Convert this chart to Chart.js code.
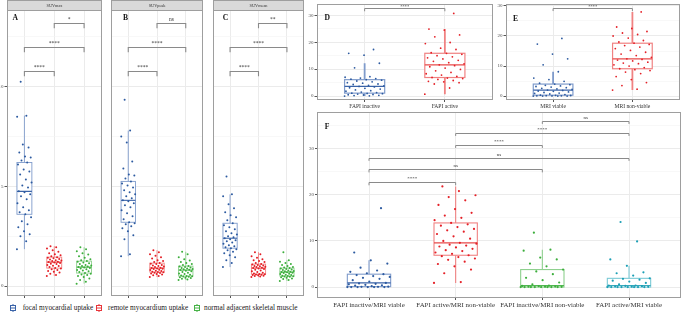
<!DOCTYPE html>
<html>
<head>
<meta charset="utf-8">
<script src="https://cdn.jsdelivr.net/npm/chart.js@4.4.1/dist/chart.umd.min.js"></script>
<style>
  html, body { margin: 0; padding: 0; background: #fff; }
  #wrap { position: relative; width: 685px; height: 313px; overflow: hidden; font-family: "Liberation Serif", "Times New Roman", serif; }
  #wrap canvas { position: absolute; }
  .lg { position: absolute; top: 302.5px; height: 10px; font-size: 7.3px; line-height: 10px; color: #1a1a1a; white-space: nowrap; }
  .lg svg { display: block; margin-top: 1px; }
</style>
</head>
<body>
<div id="wrap">
  <canvas id="cA" width="106" height="300" style="left:0;top:0"></canvas>
  <canvas id="cB" width="100" height="300" style="left:107px;top:0"></canvas>
  <canvas id="cC" width="99" height="300" style="left:209px;top:0"></canvas>
  <canvas id="cD" width="195" height="112" style="left:302px;top:0"></canvas>
  <canvas id="cE" width="192" height="112" style="left:492px;top:0"></canvas>
  <canvas id="cF" width="383" height="205" style="left:302px;top:108px"></canvas>

  <div class="lg" style="left:10px"><svg width="6" height="8"><line x1="3" y1="0" x2="3" y2="8" stroke="#3a63a8"/><rect x="0.5" y="1.5" width="5" height="5" fill="#fff" stroke="#3a63a8"/><line x1="0.5" y1="4" x2="5.5" y2="4" stroke="#3a63a8"/></svg></div>
  <div class="lg" style="left:22.7px">focal myocardial uptake</div>
  <div class="lg" style="left:96px"><svg width="6" height="8"><line x1="3" y1="0" x2="3" y2="8" stroke="#e8353a"/><rect x="0.5" y="1.5" width="5" height="5" fill="#fff" stroke="#e8353a"/><line x1="0.5" y1="4" x2="5.5" y2="4" stroke="#e8353a"/></svg></div>
  <div class="lg" style="left:108px">remote myocardium uptake</div>
  <div class="lg" style="left:194px"><svg width="6" height="8"><line x1="3" y1="0" x2="3" y2="8" stroke="#47b247"/><rect x="0.5" y="1.5" width="5" height="5" fill="#fff" stroke="#47b247"/><line x1="0.5" y1="4" x2="5.5" y2="4" stroke="#47b247"/></svg></div>
  <div class="lg" style="left:204px">normal adjacent skeletal muscle</div>
</div>
<script>
/* ── 数据 ── */

// A–C: SUV (shared y axis)
const suvCats = ['focal myocardial uptake', 'remote myocardium uptake', 'normal adjacent skeletal muscle'];
const suvTicks = [0, 5, 10];

const suvmaxFocal = [1.85, 2.25, 2.5, 2.6, 2.75, 2.95, 3.1, 3.25, 3.45, 3.6, 3.7, 3.8, 3.95, 4.15, 4.35, 4.5, 4.6, 4.7, 4.75,
    4.95, 5.05, 5.2, 5.35, 5.6, 5.75, 5.85, 6.1, 6.2, 6.3, 6.45, 6.5, 6.7, 6.95, 7.1, 8.5, 8.55, 10.25];
const suvmaxRemote = [0.5, 0.55, 0.62, 0.68, 0.72, 0.75, 0.8, 0.84, 0.88, 0.9, 0.95, 1.0, 1.02, 1.06, 1.1, 1.12, 1.15, 1.18, 1.2,
    1.22, 1.25, 1.28, 1.3, 1.33, 1.36, 1.4, 1.42, 1.45, 1.5, 1.55, 1.6, 1.65, 1.72, 1.8, 1.88, 1.95, 2.0];
const suvmaxMuscle = [0.12, 0.22, 0.3, 0.38, 0.45, 0.5, 0.55, 0.58, 0.62, 0.65, 0.7, 0.74, 0.78, 0.8, 0.84, 0.88, 0.9, 0.93, 0.95,
    0.98, 1.0, 1.03, 1.06, 1.1, 1.14, 1.18, 1.22, 1.25, 1.3, 1.35, 1.42, 1.5, 1.58, 1.65, 1.75, 1.85, 1.95];

const suvpeakFocal = [1.5, 1.6, 2.35, 2.55, 2.75, 2.9, 3.0, 3.1, 3.15, 3.2, 3.35, 3.5, 3.65, 3.8, 3.95, 4.05, 4.15, 4.25, 4.3,
    4.4, 4.5, 4.6, 4.7, 4.8, 4.95, 5.05, 5.15, 5.25, 5.4, 5.55, 5.6, 5.9, 6.25, 7.2, 7.5, 7.8, 9.35];
const suvpeakRemote = [0.45, 0.5, 0.54, 0.58, 0.6, 0.63, 0.65, 0.67, 0.69, 0.7, 0.72, 0.75, 0.77, 0.8, 0.82, 0.85, 0.87, 0.88, 0.9,
    0.92, 0.95, 0.98, 1.0, 1.03, 1.06, 1.1, 1.12, 1.15, 1.2, 1.25, 1.3, 1.38, 1.45, 1.52, 1.6, 1.7, 1.8];
const suvpeakMuscle = [0.3, 0.33, 0.36, 0.4, 0.42, 0.44, 0.46, 0.48, 0.49, 0.5, 0.53, 0.56, 0.6, 0.63, 0.67, 0.7, 0.74, 0.77, 0.8,
    0.82, 0.84, 0.86, 0.88, 0.9, 0.93, 0.95, 0.98, 1.0, 1.05, 1.1, 1.15, 1.2, 1.28, 1.35, 1.45, 1.6, 1.72];

const suvmeanFocal = [0.95, 1.15, 1.3, 1.45, 1.55, 1.65, 1.72, 1.8, 1.85, 1.9, 1.95, 2.0, 2.05, 2.12, 2.18, 2.25, 2.3, 2.35, 2.4,
    2.45, 2.5, 2.58, 2.65, 2.75, 2.85, 2.95, 3.05, 3.15, 3.3, 3.45, 3.55, 3.7, 3.9, 4.1, 4.5, 4.6, 5.5];
const suvmeanRemote = [0.45, 0.48, 0.5, 0.52, 0.54, 0.55, 0.57, 0.58, 0.59, 0.6, 0.63, 0.67, 0.7, 0.74, 0.78, 0.82, 0.85, 0.88, 0.9,
    0.92, 0.95, 0.97, 0.99, 1.01, 1.03, 1.05, 1.08, 1.1, 1.15, 1.2, 1.25, 1.3, 1.35, 1.42, 1.5, 1.6, 1.7];
const suvmeanMuscle = [0.25, 0.3, 0.35, 0.38, 0.41, 0.44, 0.46, 0.48, 0.49, 0.5, 0.52, 0.55, 0.57, 0.6, 0.62, 0.65, 0.67, 0.69, 0.7,
    0.72, 0.74, 0.76, 0.78, 0.8, 0.83, 0.85, 0.88, 0.9, 0.93, 0.96, 1.0, 1.05, 1.1, 1.15, 1.22, 1.3, 1.7];

const suvPairs = [[2, 3], [1, 3], [1, 2]];
const suvBracketY = [13.2, 12.0, 10.8];
const suvmaxSig = ['*', '****', '****'];
const suvpeakSig = ['ns', '****', '****'];
const suvmeanSig = ['**', '****', '****'];

// D: FAPI
const dCats = ['FAPI inactive', 'FAPI active'];
const dTicks = [0, 10, 20, 30];
const fapiInactive = [0, 0.1, 0.2, 0.3, 0.4, 0.5, 0.6, 0.75, 0.9, 1.0, 1.1, 1.3, 1.5, 1.8, 2.0, 2.3, 2.6, 2.9, 3.1, 3.4, 3.6,
    3.8, 4.0, 4.3, 4.5, 4.8, 5.0, 5.3, 5.6, 5.9, 6.1, 6.3, 6.5, 6.7, 7.0, 7.2, 10.5, 12.2, 15.2, 15.9, 17.3];
const fapiActive = [0.7, 3.0, 4.5, 5.0, 5.3, 5.5, 5.8, 6.2, 6.5, 6.7, 6.9, 7.3, 7.8, 8.3, 8.8, 9.4, 9.9, 10.4, 10.9, 11.3, 11.6,
    12.0, 12.4, 12.9, 13.3, 13.8, 14.2, 14.6, 15.0, 15.5, 15.9, 16.1, 17.3, 17.8, 19.5, 19.9, 22.0, 22.7, 24.5, 24.9, 30.7];
const dPairs = [[1, 2]];
const dBracketY = [32.6];
const dSig = ['****'];

// E: MRI
const eCats = ['MRI viable', 'MRI non-viable'];
const eTicks = [0, 10, 20, 30];
const mriViable = [0, 0, 0, 0, 0.05, 0.1, 0.1, 0.15, 0.2, 0.25, 0.3, 0.5, 0.7, 0.9, 1.0, 1.2, 1.4, 1.6, 1.7, 1.9, 2.0,
    2.2, 2.4, 2.6, 2.8, 3.0, 3.2, 3.4, 3.6, 3.8, 4.0, 4.3, 4.9, 5.5, 6.0, 8.1, 10.4, 12.4, 14.0, 17.3, 19.2];
const mriNonViable = [2.0, 2.3, 3.5, 4.5, 5.5, 6.5, 7.5, 8.0, 8.5, 8.8, 9.1, 9.5, 10.0, 10.4, 10.8, 11.0, 11.3, 11.7, 12.0, 12.2, 12.4,
    12.9, 13.5, 14.0, 14.6, 15.2, 15.8, 16.3, 16.8, 17.2, 17.6, 18.0, 18.5, 19.3, 20.0, 20.5, 21.0, 21.5, 22.5, 23.0, 28.0];
const ePairs = [[1, 2]];
const eBracketY = [29.3];
const eSig = ['****'];

// F: FAPI × MRI
const fCats = ['FAPI inactive/MRI viable', 'FAPI active/MRI non-viable', 'FAPI inactive/MRI non-viable', 'FAPI active/MRI viable'];
const fTicks = [0, 10, 20, 30];
const inactiveViable = [0, 0, 0, 0, 0, 0, 0.05, 0.05, 0.1, 0.2, 0.3, 0.4, 0.5, 0.6, 0.7, 0.8, 0.9,
    1.2, 1.5, 1.8, 2.0, 2.2, 2.4, 2.6, 2.8, 3.0, 3.3, 3.6, 4.2, 5.1, 5.8, 7.5, 17.1];
const activeNonViable = [0.9, 1.1, 3.0, 3.8, 4.5, 5.0, 5.5, 5.9, 6.2, 6.5, 6.7, 6.9, 7.2, 7.5, 7.8, 8.0, 8.3, 8.6, 8.8, 9.0, 9.2, 9.4, 9.6,
    10.0, 10.5, 11.0, 11.5, 12.0, 12.3, 12.6, 13.0, 13.3, 13.6, 13.9, 14.5, 15.0, 15.5, 16.1, 16.9, 17.8, 18.8, 19.5, 19.9, 20.8, 21.8];
const inactiveNonViable = [0, 0, 0, 0, 0, 0, 0, 0, 0.05, 0.1, 0.1, 0.15, 0.2, 0.25, 0.3,
    0.6, 1.0, 1.5, 2.0, 2.8, 3.4, 3.8, 4.5, 5.1, 6.0, 6.4, 7.9, 8.1, 11.8];
const activeViable = [0, 0, 0, 0, 0, 0, 0, 0, 0.05, 0.1, 0.15, 0.2, 0.25, 0.3, 0.35,
    0.6, 0.9, 1.2, 1.4, 1.6, 1.8, 1.9, 2.5, 3.0, 3.2, 4.6, 6.0, 9.9, 14.1];
const fPairs = [[3, 4], [2, 4], [2, 3], [1, 4], [1, 3], [1, 2]];
const fBracketY = [36.0, 33.4, 30.8, 28.0, 25.5, 22.7];
const fSig = ['ns', '****', '****', 'ns', 'ns', '****'];

/* ── 样式 ── */
const FONT = '"Liberation Serif", "Times New Roman", serif';
const BLUE = { pt: '#2c5aa0', box: '#7f9bcb', med: '#3a63a8' };
const RED = { pt: '#e41f26', box: '#f08282', med: '#e84a4a' };
const GREEN = { pt: '#3cae3c', box: '#8fd08f', med: '#52b852' };
const TEAL = { pt: '#1b9fb5', box: '#7ccad6', med: '#3aaabb' };

const PANELS = {};

// 固定抖动（非随机）
function jit(i) { return (((i * 0.6180339887) % 1) - 0.5) * 0.5; }

function quant(s, p) {
    const h = (s.length - 1) * p, lo = Math.floor(h);
    const hi = Math.min(lo + 1, s.length - 1);
    return s[lo] + (h - lo) * (s[hi] - s[lo]);
}

function boxStats(vals) {
    const s = vals.slice().sort((a, b) => a - b);
    const q1 = quant(s, 0.25), med = quant(s, 0.5), q3 = quant(s, 0.75), iqr = q3 - q1;
    const lo = s.find(v => v >= q1 - 1.5 * iqr);
    const hi = s.slice().reverse().find(v => v <= q3 + 1.5 * iqr);
    return { q1, med, q3, lo, hi };
}

function tickObjs(majors, min, max) {
    const half = (majors[1] - majors[0]) / 2, out = [];
    for (let v = Math.ceil(min / half) * half; v <= max + 1e-9; v += half) {
        out.push({ value: v, isMajor: majors.includes(v) });
    }
    return out;
}

const ggPanel = {
    id: 'ggPanel',
    beforeDatasetsDraw(chart) {
        const o = PANELS[chart.canvas.id];
        const { ctx, chartArea: a, scales: { x, y } } = chart;
        const py = v => y.getPixelForValue(v);
        ctx.save();
        ctx.beginPath();
        ctx.rect(a.left, a.top, a.right - a.left, a.bottom - a.top);
        ctx.clip();
        o.groups.forEach((g, gi) => {
            const st = boxStats(g.values);
            const cx = x.getPixelForValue(gi + 1);
            const x0 = x.getPixelForValue(gi + 1 - 0.25), x1 = x.getPixelForValue(gi + 1 + 0.25);
            // whiskers
            ctx.strokeStyle = g.color.box;
            ctx.lineWidth = o.whiskerW;
            ctx.beginPath();
            ctx.moveTo(cx, py(st.hi)); ctx.lineTo(cx, py(st.q3));
            ctx.moveTo(cx, py(st.q1)); ctx.lineTo(cx, py(st.lo));
            ctx.stroke();
            // box
            ctx.fillStyle = '#fff';
            ctx.fillRect(x0, py(st.q3), x1 - x0, py(st.q1) - py(st.q3));
            ctx.lineWidth = o.boxW;
            ctx.strokeRect(x0, py(st.q3), x1 - x0, py(st.q1) - py(st.q3));
            // median
            ctx.strokeStyle = g.color.med;
            ctx.lineWidth = o.medW;
            ctx.beginPath();
            ctx.moveTo(x0, py(st.med)); ctx.lineTo(x1, py(st.med));
            ctx.stroke();
        });
        ctx.restore();
    },
    afterDraw(chart) {
        const o = PANELS[chart.canvas.id];
        const { ctx, chartArea: a, scales: { x, y } } = chart;
        const L = Math.round(a.left) + 0.5, T = Math.round(a.top) + 0.5;
        const R = Math.round(a.right) - 0.5, B = Math.round(a.bottom) - 0.5;
        ctx.save();
        // strip
        if (o.strip) {
            ctx.fillStyle = '#d9d9d9';
            ctx.fillRect(L, 0.5, R - L, T - 0.5);
            ctx.strokeStyle = '#9e9e9e';
            ctx.lineWidth = 1;
            ctx.strokeRect(L, 0.5, R - L, T - 0.5);
            ctx.fillStyle = '#333';
            ctx.font = `4.3px ${FONT}`;
            ctx.textAlign = 'center';
            ctx.textBaseline = 'middle';
            ctx.fillText(o.strip, (L + R) / 2, T / 2 + 0.5);
        }
        // border
        ctx.strokeStyle = '#9e9e9e';
        ctx.lineWidth = 1;
        ctx.strokeRect(L, T, R - L, B - T);
        // letter
        ctx.fillStyle = '#111';
        ctx.font = `bold 7.6px ${FONT}`;
        ctx.textAlign = 'center';
        ctx.textBaseline = 'middle';
        ctx.fillText(o.letter, a.left + o.letterDx, a.top + o.letterDy);
        // significance brackets
        ctx.strokeStyle = '#8a8a8a';
        ctx.lineWidth = o.bracketW;
        ctx.font = `${o.sigFont}px ${FONT}`;
        ctx.textBaseline = 'alphabetic';
        o.pairs.forEach((p, k) => {
            const xa = x.getPixelForValue(p[0]), xb = x.getPixelForValue(p[1]);
            const yy = Math.round(y.getPixelForValue(o.bracketY[k])) + 0.5;
            const yt = y.getPixelForValue(o.bracketY[k] - o.tip);
            ctx.beginPath();
            ctx.moveTo(xa, yt); ctx.lineTo(xa, yy); ctx.lineTo(xb, yy); ctx.lineTo(xb, yt);
            ctx.stroke();
            ctx.fillStyle = '#333';
            ctx.fillText(o.sig[k], (xa + xb) / 2, yy - o.sigGap);
        });
        ctx.restore();
    },
};

function panel(id, cfg) {
    PANELS[id] = cfg;
    const xt = cfg.cats.map((c, i) => ({ value: i + 1, isMajor: true }));
    const yt = tickObjs(cfg.yTicks, cfg.yMin, cfg.yMax);
    const isMajor = c => c.tick && c.tick.isMajor;
    new Chart(document.getElementById(id), {
        type: 'scatter',
        data: {
            datasets: cfg.groups.map((g, gi) => ({
                data: g.values.map((v, i) => ({ x: gi + 1 + jit(i), y: v })),
                pointRadius: cfg.ptR,
                pointBackgroundColor: g.color.pt,
                pointBorderWidth: 0,
                showLine: false,
            })),
        },
        options: {
            responsive: false,
            animation: false,
            events: [],
            layout: { padding: { top: cfg.padTop, right: cfg.padRight || 0, left: 0, bottom: 0 } },
            plugins: { legend: { display: false }, tooltip: { enabled: false } },
            scales: {
                x: {
                    type: 'linear',
                    min: 0.4,
                    max: cfg.cats.length + 0.6,
                    afterBuildTicks: ax => { ax.ticks = xt.map(t => ({ ...t })); },
                    afterFit: ax => { ax.height = cfg.xH; },
                    ticks: {
                        display: cfg.showX, autoSkip: false, maxRotation: 0, minRotation: 0,
                        padding: 1, color: '#333', font: { family: FONT, size: cfg.xFont },
                        callback: (v, i) => cfg.cats[i],
                    },
                    grid: { color: '#ebebeb', lineWidth: 1, drawTicks: true, tickLength: 2, tickColor: '#555' },
                    border: { display: false },
                },
                y: {
                    type: 'linear',
                    min: cfg.yMin,
                    max: cfg.yMax,
                    afterBuildTicks: ax => { ax.ticks = yt.map(t => ({ ...t })); },
                    afterFit: ax => { ax.width = cfg.yW; },
                    ticks: {
                        display: cfg.showY, autoSkip: false, padding: 1, color: '#4d4d4d',
                        font: { family: FONT, size: 5 },
                        callback: (v, i, t) => (t[i].isMajor ? String(v) : ''),
                    },
                    grid: {
                        color: c => (isMajor(c) ? '#ebebeb' : '#f4f4f4'),
                        lineWidth: c => (isMajor(c) ? 1 : 0.6),
                        drawTicks: cfg.showY, tickLength: 2,
                        tickColor: c => (isMajor(c) ? '#555' : 'rgba(0,0,0,0)'),
                    },
                    border: { display: false },
                },
            },
        },
        plugins: [ggPanel],
    });
}

const suvBase = {
    cats: suvCats, yTicks: suvTicks, yMin: -0.5, yMax: 13.85,
    padTop: 10, xH: 3, showX: false, xFont: 6, ptR: 1,
    pairs: suvPairs, bracketY: suvBracketY, tip: 0.27, sigFont: 5.5, sigGap: 3,
    boxW: 0.9, whiskerW: 0.9, medW: 1.1, bracketW: 1.1, letterDy: 8.3,
};

panel('cA', { ...suvBase, yW: 6.5, showY: true, strip: 'SUVmax', letter: 'A', letterDx: 8.8, sig: suvmaxSig,
    groups: [{ values: suvmaxFocal, color: BLUE }, { values: suvmaxRemote, color: RED }, { values: suvmaxMuscle, color: GREEN }] });
panel('cB', { ...suvBase, yW: 0.5, showY: false, strip: 'SUVpeak', letter: 'B', letterDx: 14.5, sig: suvpeakSig,
    groups: [{ values: suvpeakFocal, color: BLUE }, { values: suvpeakRemote, color: RED }, { values: suvpeakMuscle, color: GREEN }] });
panel('cC', { ...suvBase, yW: 0.5, showY: false, strip: 'SUVmean', letter: 'C', letterDx: 12.5, sig: suvmeanSig,
    groups: [{ values: suvmeanFocal, color: BLUE }, { values: suvmeanRemote, color: RED }, { values: suvmeanMuscle, color: GREEN }] });

panel('cD', {
    cats: dCats, yTicks: dTicks, yMin: -1.45, yMax: 34.2, yW: 14.5, showY: true,
    padTop: 2, xH: 12, showX: true, xFont: 5.6, ptR: 0.9,
    pairs: dPairs, bracketY: dBracketY, sig: dSig, tip: 1.1, sigFont: 4.5, sigGap: 0.8,
    boxW: 1.2, whiskerW: 1.8, medW: 1.4, bracketW: 1, letter: 'D', letterDx: 10.8, letterDy: 14.5,
    groups: [{ values: fapiInactive, color: BLUE }, { values: fapiActive, color: RED }],
});
panel('cE', {
    cats: eCats, yTicks: eTicks, yMin: -1.3, yMax: 30.65, yW: 13.5, padRight: 0.5, showY: true,
    padTop: 2, xH: 12, showX: true, xFont: 5.6, ptR: 0.9,
    pairs: ePairs, bracketY: eBracketY, sig: eSig, tip: 1.0, sigFont: 4.5, sigGap: 0.8,
    boxW: 1.2, whiskerW: 1.8, medW: 1.4, bracketW: 1, letter: 'E', letterDx: 10, letterDy: 15,
    groups: [{ values: mriViable, color: BLUE }, { values: mriNonViable, color: RED }],
});
panel('cF', {
    cats: fCats, yTicks: fTicks, yMin: -2.36, yMax: 37.93, yW: 15, showY: true,
    padTop: 2, xH: 15, showX: true, xFont: 6.9, ptR: 1.1,
    pairs: fPairs, bracketY: fBracketY, sig: fSig, tip: 0.65, sigFont: 5, sigGap: 2.2,
    boxW: 1.1, whiskerW: 1.1, medW: 1.2, bracketW: 1, letter: 'F', letterDx: 10, letterDy: 15,
    groups: [{ values: inactiveViable, color: BLUE }, { values: activeNonViable, color: RED },
        { values: inactiveNonViable, color: GREEN }, { values: activeViable, color: TEAL }],
});
</script>
</body>
</html>
